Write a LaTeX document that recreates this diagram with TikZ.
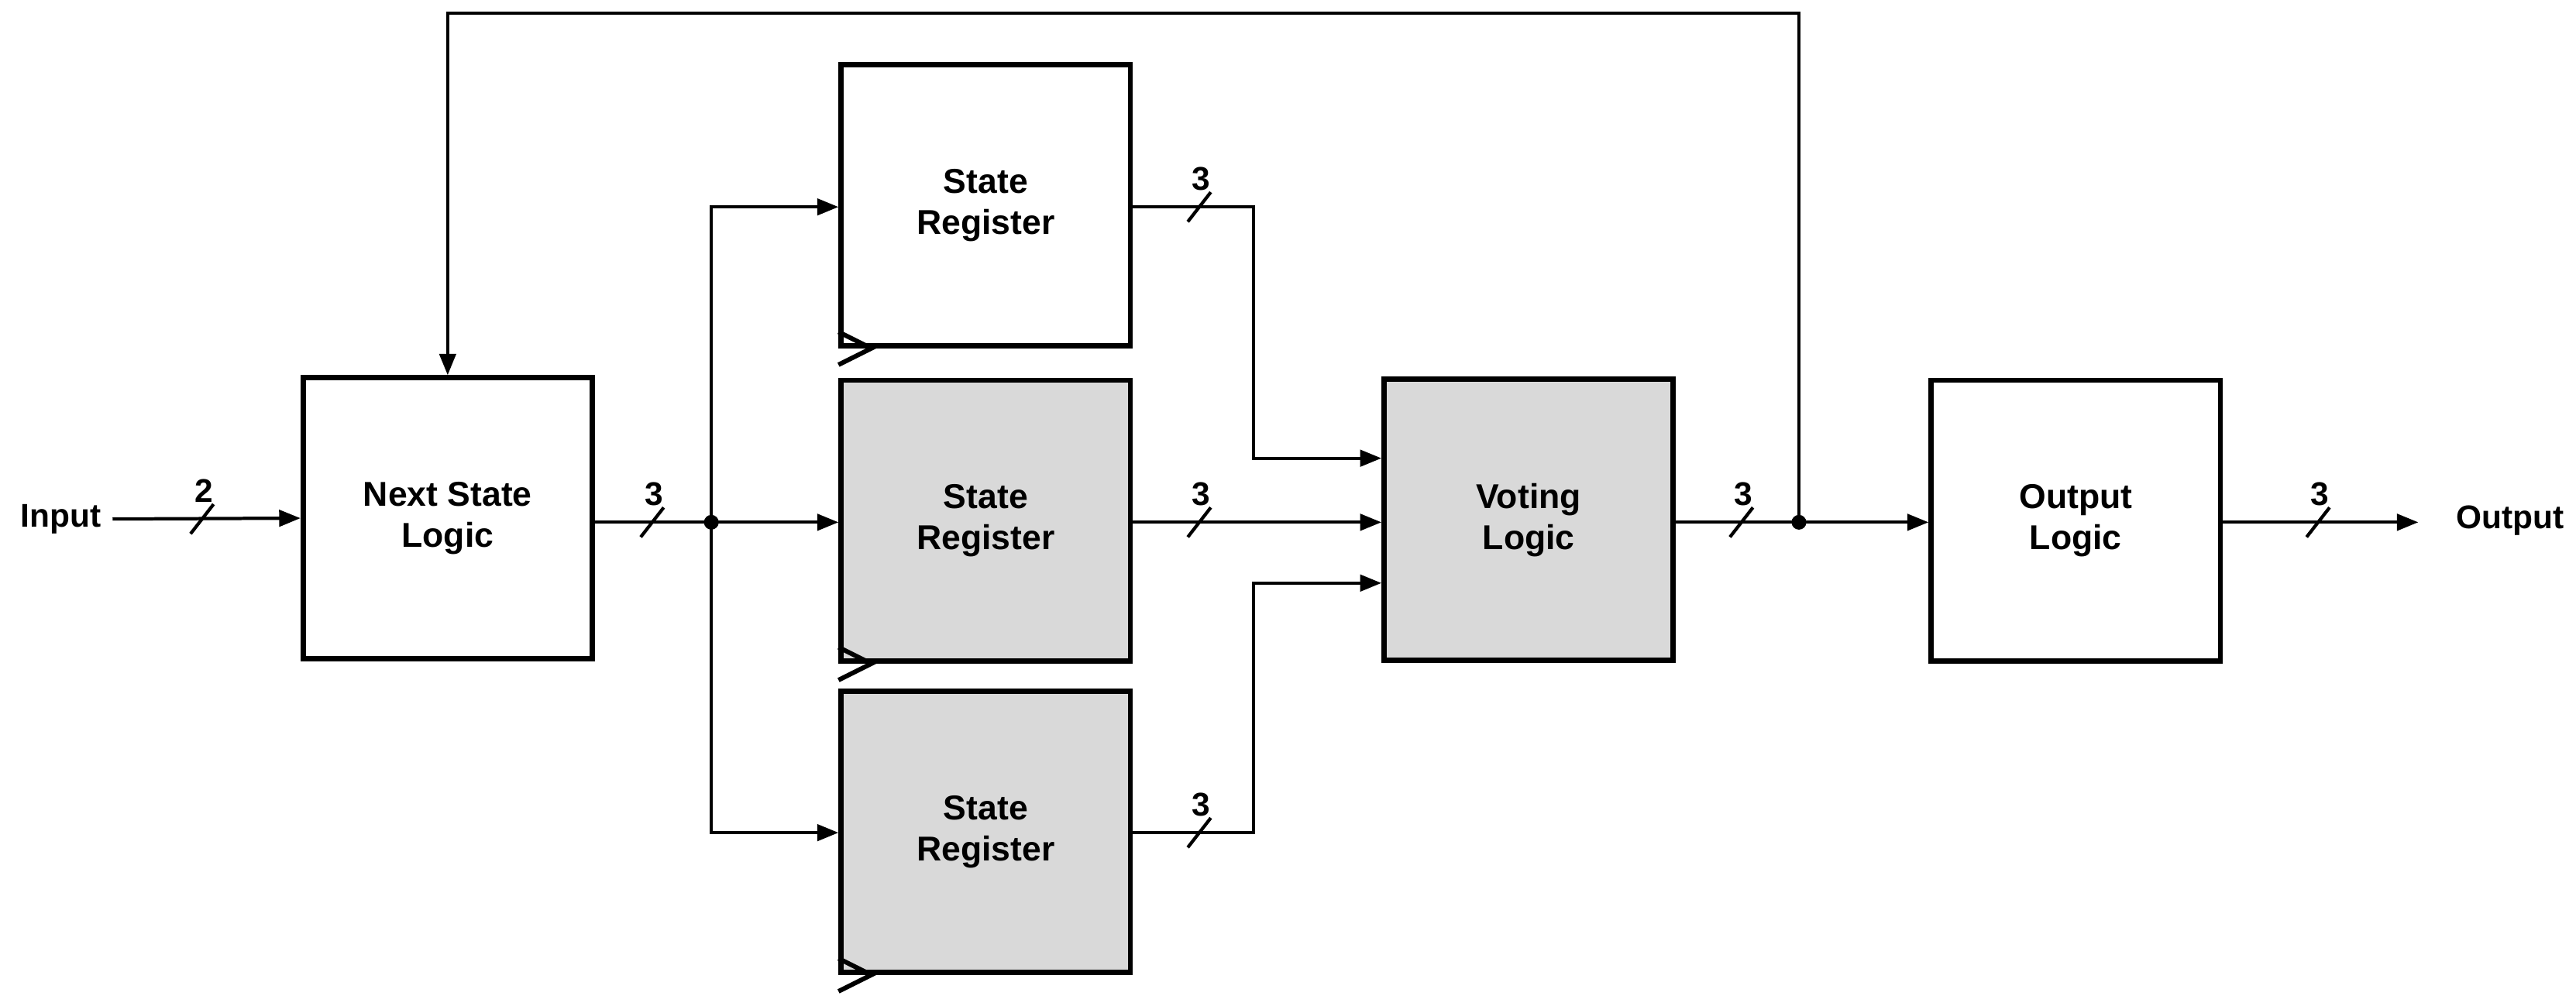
\documentclass[tikz,border=0pt]{standalone}
\usepackage{fontspec}
\setmainfont{Liberation Sans}
\usetikzlibrary{arrows.meta}
\begin{document}
\begin{tikzpicture}[x=0.5pt,y=-0.5pt,
  blk/.style={draw,line width=1.6pt,font=\bfseries\fontsize{10.5}{12.5}\selectfont,align=center,inner sep=0pt},
  w/.style={line width=1pt},
  arr/.style={w,-{Triangle[length=6.5pt,width=5pt]}},
  lbl/.style={font=\bfseries\fontsize{10}{12}\selectfont}]
\useasboundingbox (0,0) rectangle (1568,606);
\newcommand{\blkat}[5]{\node[blk,fill=#5,minimum width=88pt,minimum height=85.5pt] (#1) at (#2,#3) {#4};}
\blkat{nsl}{272.5}{315.5}{Next State\\Logic}{white}
\blkat{sr1}{600}{125}{State\\Register}{white}
\blkat{sr2}{600}{317}{State\\Register}{gray!30}
\blkat{sr3}{600}{506.5}{State\\Register}{gray!30}
\blkat{vot}{930.5}{316.5}{Voting\\Logic}{gray!30}
\blkat{out}{1263.5}{317}{Output\\Logic}{white}
\foreach \s in {sr1,sr2,sr3}{
  \draw[line width=1.4pt] ([yshift=5pt]\s.south west) -- ++(10pt,-5pt) -- ++(-10pt,-5pt);}
\node[font=\bfseries\fontsize{10}{12}\selectfont] (in) at (37,316) {Input};
\node[font=\bfseries\fontsize{10}{12}\selectfont] (ou) at (1528,317) {Output};
\coordinate (j1) at (433,318);
\coordinate (j2) at (1095,318);
\draw[arr] (in.east) -- (nsl.west);
\draw[w] (nsl.east|-j1) -- (j1);
\draw[arr] (j1) -- (sr2.west|-j1);
\draw[arr] (j1) |- (sr1.west|-0,126);
\draw[arr] (j1) |- (sr3.west|-0,507);
\draw[arr] (sr1.east|-0,126) -- (763,126) |- (vot.west|-0,279);
\draw[arr] (sr2.east|-0,318) -- (vot.west|-0,318);
\draw[arr] (sr3.east|-0,507) -- (763,507) |- (vot.west|-0,355);
\draw[w] (vot.east|-j2) -- (j2);
\draw[arr] (j2) -- (out.west|-j2);
\draw[arr] (j2) -- (1095,8) -| (nsl.north);
\draw[arr] (out.east|-j2) -- (1472,318);
\fill (j1) circle (4.5) (j2) circle (4.5);
\foreach \x/\y/\t in {123/316/2,397/318/3,730/126/3,730/318/3,730/507/3,1060/318/3,1411/318/3}{
  \draw[w] (\x-7,\y+9) -- (\x+7,\y-9);
  \node[lbl] at (\x+1,\y-17) {\t};}
\end{tikzpicture}
\end{document}
